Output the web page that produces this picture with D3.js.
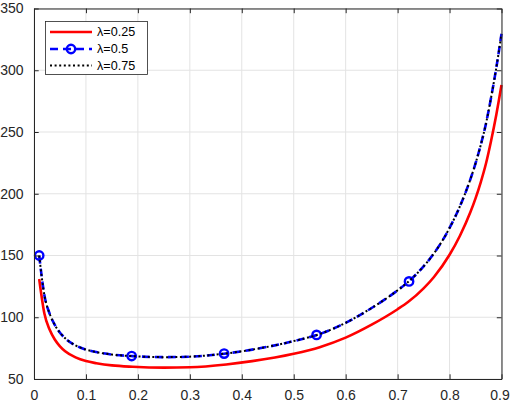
<html>
<head>
    <script src="https://cdn.jsdelivr.net/npm/d3@7"></script>
    <style>
        body {
            margin: 0;
            font-family: "Liberation Sans", Arial, Helvetica, sans-serif;
            background: #ffffff;
        }
    </style>
</head>
<body>
    <svg id="Chart"></svg>
</body>
<script>
    // values
    let xValues = [0.01, 0.02, 0.03, 0.04, 0.05, 0.06, 0.08, 0.10, 0.12, 0.15, 0.19, 0.25, 0.30, 0.37, 0.42, 0.50,
                   0.55, 0.60, 0.65, 0.70, 0.72, 0.75, 0.77, 0.80, 0.82, 0.84, 0.85, 0.86, 0.87, 0.88, 0.89, 0.90]
    let lambda025 = [131, 103, 90, 82, 76.5, 72.5, 67.5, 64.5, 62.8, 61, 59.9, 59.2, 59.5, 61.8, 64.5, 70.5,
                     75.8, 83.5, 94, 106.5, 112.3, 123.4, 132.6, 150.6, 166, 185, 196.3, 209.3, 224.3, 243, 264, 288]
    let lambda05 = [150, 117.8, 103, 93.8, 87.5, 83, 77.2, 73.8, 71.8, 69.8, 68.5, 67.7, 68.1, 70.7, 73.8, 80.7,
                    86.4, 95.5, 107.5, 121.8, 128.5, 141.2, 151.7, 172.3, 189.9, 211.6, 224.6, 239.4, 256.6, 278, 302, 329.5]
    let lambda075 = [150, 117.8, 103, 93.8, 87.5, 83, 77.2, 73.8, 71.8, 69.8, 68.5, 67.7, 68.1, 70.7, 73.8, 80.7,
                     86.4, 95.5, 107.5, 121.8, 128.5, 141.2, 151.7, 172.3, 189.9, 211.6, 224.6, 239.4, 256.6, 278, 302, 329.5]
    // circle markers sitting on the lambda=0.5 curve
    let markerX = [0.01, 0.188, 0.366, 0.544, 0.722]
    let markerY = [150, 68.6, 70.6, 85.7, 129]

    let xTicks = [0, 0.1, 0.2, 0.3, 0.4, 0.5, 0.6, 0.7, 0.8, 0.9]
    let xTickLabels = ["0", "0.1", "0.2", "0.3", "0.4", "0.5", "0.6", "0.7", "0.8", "0.9"]
    let yTicks = [50, 100, 150, 200, 250, 300, 350]
    let seriesNames = ["\u03bb=0.25", "\u03bb=0.5", "\u03bb=0.75"]

    function getConfig() {
        let width = 510
        let height = 408
        let margin = { top: 8.5, bottom: 29, left: 34, right: 8.5 }
        let bodyWidth = width - margin.left - margin.right
        let bodyHeight = height - margin.top - margin.bottom
        let container = d3.select("#Chart")
        container.attr("width", width).attr("height", height)
        return { width, height, margin, bodyWidth, bodyHeight, container }
    }

    function getScales(config) {
        let xScale = d3.scaleLinear().domain([0, 0.9]).range([0, config.bodyWidth])
        let yScale = d3.scaleLinear().domain([50, 350]).range([config.bodyHeight, 0])
        return { xScale, yScale }
    }

    function drawGrid(scales, config) {
        let { xScale, yScale } = scales
        let { margin, container, bodyWidth, bodyHeight } = config
        let grid = container.append("g")
            .attr("transform", `translate(${margin.left},${margin.top})`)
        grid.selectAll(".vgrid").data(xTicks).enter().append("line")
            .attr("x1", d => xScale(d)).attr("x2", d => xScale(d))
            .attr("y1", 0).attr("y2", bodyHeight)
            .attr("stroke", "#e3e3e3").attr("stroke-width", 1)
        grid.selectAll(".hgrid").data(yTicks).enter().append("line")
            .attr("y1", d => yScale(d)).attr("y2", d => yScale(d))
            .attr("x1", 0).attr("x2", bodyWidth)
            .attr("stroke", "#e3e3e3").attr("stroke-width", 1)
    }

    function drawLines(scales, config) {
        let { xScale, yScale } = scales
        let { margin, container } = config
        let body = container.append("g")
            .attr("transform", `translate(${margin.left},${margin.top})`)

        let line = d3.line()
            .x((d, i) => xScale(xValues[i]))
            .y(d => yScale(d))
            .curve(d3.curveMonotoneX)

        body.append("path").datum(lambda025)
            .attr("d", line)
            .attr("fill", "none").attr("stroke", "#ff0000").attr("stroke-width", 2.6)

        body.append("path").datum(lambda05)
            .attr("d", line)
            .attr("fill", "none").attr("stroke", "#0000ff").attr("stroke-width", 2.6)
            .attr("stroke-dasharray", "8,5")

        body.selectAll(".marker").data(markerX).enter().append("circle")
            .attr("cx", d => xScale(d))
            .attr("cy", (d, i) => yScale(markerY[i]))
            .attr("r", 4.2)
            .attr("fill", "none").attr("stroke", "#0000ff").attr("stroke-width", 2.4)

        body.append("path").datum(lambda075)
            .attr("d", line)
            .attr("fill", "none").attr("stroke", "#000000").attr("stroke-width", 2)
            .attr("stroke-dasharray", "2,2.6")
    }

    function drawAxes(scales, config) {
        let { xScale, yScale } = scales
        let { margin, container, bodyWidth, bodyHeight } = config
        let axisColor = "#262626"

        let axisX = d3.axisBottom(xScale).tickValues(xTicks)
            .tickFormat((d, i) => xTickLabels[i])
            .tickSizeInner(-4.7).tickSizeOuter(0).tickPadding(11)
        let gx = container.append("g")
            .attr("transform", `translate(${margin.left},${margin.top + bodyHeight})`)
            .call(axisX)
        // last label sits on the window edge, nudge it in so it stays whole
        gx.selectAll(".tick text").filter((d, i) => i === xTicks.length - 1)
            .attr("dx", "-2")

        let axisTop = d3.axisTop(xScale).tickValues(xTicks).tickFormat("")
            .tickSizeInner(-4.7).tickSizeOuter(0)
        let gt = container.append("g")
            .attr("transform", `translate(${margin.left},${margin.top})`)
            .call(axisTop)

        let axisY = d3.axisLeft(yScale).tickValues(yTicks)
            .tickSizeInner(-4.7).tickSizeOuter(0).tickPadding(10.5)
        let gy = container.append("g")
            .attr("transform", `translate(${margin.left},${margin.top})`)
            .call(axisY)

        let axisRight = d3.axisRight(yScale).tickValues(yTicks).tickFormat("")
            .tickSizeInner(-4.7).tickSizeOuter(0)
        let gr = container.append("g")
            .attr("transform", `translate(${margin.left + bodyWidth},${margin.top})`)
            .call(axisRight)

        for (let g of [gx, gt, gy, gr]) {
            g.select(".domain").attr("stroke", axisColor).attr("stroke-width", 1)
            g.selectAll(".tick line").attr("stroke", axisColor)
            g.selectAll("text").attr("fill", axisColor)
                .style("font-size", "14px")
                .style("font-family", "'Liberation Sans', Arial, Helvetica, sans-serif")
        }
    }

    function drawLegend(config) {
        let { container } = config
        let legend = container.append("g").attr("transform", "translate(45.5,21.5)")
        legend.append("rect")
            .attr("width", 102).attr("height", 53)
            .attr("fill", "#ffffff").attr("stroke", "#262626").attr("stroke-width", 0.8)

        let rows = [10.5, 27.5, 44]
        let styles = [
            { color: "#ff0000", dash: null, width: 2.6 },
            { color: "#0000ff", dash: "8,5", width: 2.6 },
            { color: "#000000", dash: "2,2.6", width: 2 }
        ]
        seriesNames.forEach((name, i) => {
            legend.append("line")
                .attr("x1", 4.5).attr("x2", 46.5)
                .attr("y1", rows[i]).attr("y2", rows[i])
                .attr("stroke", styles[i].color).attr("stroke-width", styles[i].width)
                .attr("stroke-dasharray", styles[i].dash)
            if (i === 1) {
                legend.append("circle")
                    .attr("cx", 25.5).attr("cy", rows[i]).attr("r", 4.2)
                    .attr("fill", "none").attr("stroke", "#0000ff").attr("stroke-width", 2.4)
            }
            legend.append("text")
                .attr("x", 51.5).attr("y", rows[i])
                .attr("dy", "0.35em")
                .style("font-size", "12.6px")
                .attr("fill", "#000000")
                .text(name)
        })
    }

    function showChart() {
        let config = getConfig()
        let scales = getScales(config)
        drawGrid(scales, config)
        drawLines(scales, config)
        drawAxes(scales, config)
        drawLegend(config)
    }

    showChart()
</script>
</html>
